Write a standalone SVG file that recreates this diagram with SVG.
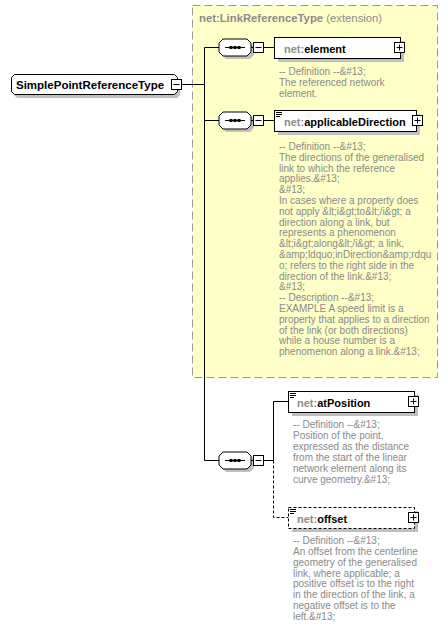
<svg xmlns="http://www.w3.org/2000/svg" width="448" height="639" viewBox="0 0 448 639">
<defs>
<style>
.ln{stroke:#000;stroke-width:1;fill:none}
.dash{stroke:#000;stroke-width:1;fill:none;stroke-dasharray:3,2}
.shadow{fill:#c0c0c0;stroke:none}
.box{fill:#fff;stroke:#000;stroke-width:1}
.dbox{fill:#fff;stroke:#000;stroke-width:1;stroke-dasharray:3,2}
.name{font-family:"Liberation Sans",Arial,sans-serif;font-size:11px;font-weight:bold;fill:#000}
.ns{fill:#8c8c8c}
.desc{font-family:"Liberation Sans",Arial,sans-serif;font-size:10px;fill:#8a8a8a}
.title{font-family:"Liberation Sans",Arial,sans-serif;font-size:11.3px;fill:#8c8c8c}
</style>
<g id="seqicon">
<polygon class="shadow" points="226,42 250,42 254,46 254,55 250,59 226,59 222,55 222,46"/>
<polygon class="box" points="223,39 247,39 251,43 251,52 247,56 223,56 219,52 219,43"/>
<line class="ln" x1="225" y1="47.5" x2="245" y2="47.5"/>
<rect x="229.5" y="46" width="3" height="3" fill="#000"/>
<rect x="233.5" y="46" width="3" height="3" fill="#000"/>
<rect x="237.5" y="46" width="3" height="3" fill="#000"/>
<line class="ln" x1="251" y1="47.5" x2="253.5" y2="47.5"/>
<rect class="box" x="253.5" y="42.5" width="10" height="10"/>
<line class="ln" x1="255.5" y1="47.5" x2="261.5" y2="47.5"/>
</g>
<g id="plus">
<rect class="box" x="0.5" y="0.5" width="10" height="10"/>
<line class="ln" x1="2.5" y1="5.5" x2="8.5" y2="5.5"/>
<line class="ln" x1="5.5" y1="2.5" x2="5.5" y2="8.5"/>
</g>
<g id="lines3">
<line class="ln" x1="1" y1="2.5" x2="7" y2="2.5"/>
<line class="ln" x1="1" y1="4.5" x2="7" y2="4.5"/>
<line class="ln" x1="1" y1="6.5" x2="5" y2="6.5"/>
</g>
</defs>
<rect width="448" height="639" fill="#fff"/>

<g id="extension">
<rect x="192.5" y="5.5" width="245" height="372" fill="#ffffc8" stroke="#999" stroke-width="1" stroke-dasharray="8,4"/>
<text x="199" y="22" class="title"><tspan font-weight="bold">net:LinkReferenceType</tspan> (extension)</text>
</g>

<g id="connectors">
<line class="ln" x1="181.5" y1="84.5" x2="204.5" y2="84.5"/>
<line class="ln" x1="204.5" y1="47.5" x2="204.5" y2="460.5"/>
<line class="ln" x1="204.5" y1="47.5" x2="219" y2="47.5"/>
<line class="ln" x1="204.5" y1="120.5" x2="219" y2="120.5"/>
<line class="ln" x1="204.5" y1="460.5" x2="219" y2="460.5"/>
<line class="ln" x1="263.5" y1="47.5" x2="274.5" y2="47.5"/>
<line class="ln" x1="263.5" y1="120.5" x2="274.5" y2="120.5"/>
<line class="ln" x1="263.5" y1="460.5" x2="273.5" y2="460.5"/>
<polyline class="ln" points="273.5,460.5 273.5,401.5 288.5,401.5"/>
<polyline class="dash" points="273.5,460.5 273.5,517.5 288.5,517.5"/>
</g>

<g id="root">
<polygon class="shadow" points="17,77 177,77 180,80 180,95 177,98 17,98 14,95 14,80"/>
<polygon class="box" points="14.5,74.5 174.5,74.5 177.5,77.5 177.5,91.5 174.5,94.5 14.5,94.5 11.5,91.5 11.5,77.5"/>
<text x="16" y="88.5" class="name" style="font-size:11.5px">SimplePointReferenceType</text>
<rect class="box" x="171.5" y="79.5" width="10" height="10"/>
<line class="ln" x1="173.5" y1="84.5" x2="179.5" y2="84.5"/>
</g>

<g id="seq1"><use href="#seqicon"/></g>
<g id="seq2"><use href="#seqicon" y="73"/></g>
<g id="seq3"><use href="#seqicon" y="413"/></g>

<g id="element">
<rect class="shadow" x="278" y="41" width="126" height="21"/>
<rect class="box" x="274.5" y="37.5" width="126" height="21"/>
<text x="284" y="52.5" class="name"><tspan class="ns">net:</tspan>element</text>
<use href="#plus" x="394" y="42"/>
<text class="desc"><tspan x="279" y="75">-- Definition --&amp;#13;</tspan><tspan x="279" y="85.8">The referenced network</tspan><tspan x="279" y="96.6">element.</tspan></text>
</g>

<g id="applicableDirection">
<rect class="shadow" x="278" y="114" width="142" height="21"/>
<rect class="box" x="274.5" y="110.5" width="142" height="21"/>
<use href="#lines3" x="275" y="110"/>
<text x="284" y="125.5" class="name"><tspan class="ns">net:</tspan>applicableDirection</text>
<use href="#plus" x="412" y="115"/>
<text class="desc">
<tspan x="279" y="150">-- Definition --&amp;#13;</tspan>
<tspan x="279" y="160.8">The directions of the generalised</tspan>
<tspan x="279" y="171.6">link to which the reference</tspan>
<tspan x="279" y="182.4">applies.&amp;#13;</tspan>
<tspan x="279" y="193.2">&amp;#13;</tspan>
<tspan x="279" y="204">In cases where a property does</tspan>
<tspan x="279" y="214.8">not apply &amp;lt;i&amp;gt;to&amp;lt;/i&amp;gt; a</tspan>
<tspan x="279" y="225.6">direction along a link, but</tspan>
<tspan x="279" y="236.4">represents a phenomenon</tspan>
<tspan x="279" y="247.2">&amp;lt;i&amp;gt;along&amp;lt;/i&amp;gt; a link,</tspan>
<tspan x="279" y="258">&amp;amp;ldquo;inDirection&amp;amp;rdqu</tspan>
<tspan x="279" y="268.8">o; refers to the right side in the</tspan>
<tspan x="279" y="279.6">direction of the link.&amp;#13;</tspan>
<tspan x="279" y="290.4">&amp;#13;</tspan>
<tspan x="279" y="301.2">-- Description --&amp;#13;</tspan>
<tspan x="279" y="312">EXAMPLE A speed limit is a</tspan>
<tspan x="279" y="322.8">property that applies to a direction</tspan>
<tspan x="279" y="333.6">of the link (or both directions)</tspan>
<tspan x="279" y="344.4">while a house number is a</tspan>
<tspan x="279" y="355.2">phenomenon along a link.&amp;#13;</tspan>
</text>
</g>

<g id="atPosition">
<rect class="shadow" x="292" y="395" width="126" height="21"/>
<rect class="box" x="288.5" y="391.5" width="126" height="21"/>
<use href="#lines3" x="289" y="391"/>
<text x="297" y="406.5" class="name"><tspan class="ns">net:</tspan>atPosition</text>
<use href="#plus" x="408" y="396"/>
<text class="desc">
<tspan x="293" y="428">-- Definition --&amp;#13;</tspan>
<tspan x="293" y="438.9">Position of the point,</tspan>
<tspan x="293" y="449.8">expressed as the distance</tspan>
<tspan x="293" y="460.7">from the start of the linear</tspan>
<tspan x="293" y="471.6">network element along its</tspan>
<tspan x="293" y="482.5">curve geometry.&amp;#13;</tspan>
</text>
</g>

<g id="offset">
<rect class="shadow" x="292" y="511" width="126" height="21"/>
<rect class="dbox" x="288.5" y="507.5" width="126" height="21"/>
<use href="#lines3" x="289" y="507"/>
<text x="297" y="522.5" class="name"><tspan class="ns">net:</tspan>offset</text>
<use href="#plus" x="408" y="512"/>
<text class="desc">
<tspan x="293" y="544">-- Definition --&amp;#13;</tspan>
<tspan x="293" y="554.85">An offset from the centerline</tspan>
<tspan x="293" y="565.7">geometry of the generalised</tspan>
<tspan x="293" y="576.55">link, where applicable; a</tspan>
<tspan x="293" y="587.4">positive offset is to the right</tspan>
<tspan x="293" y="598.25">in the direction of the link, a</tspan>
<tspan x="293" y="609.1">negative offset is to the</tspan>
<tspan x="293" y="619.95">left.&amp;#13;</tspan>
</text>
</g>
</svg>
